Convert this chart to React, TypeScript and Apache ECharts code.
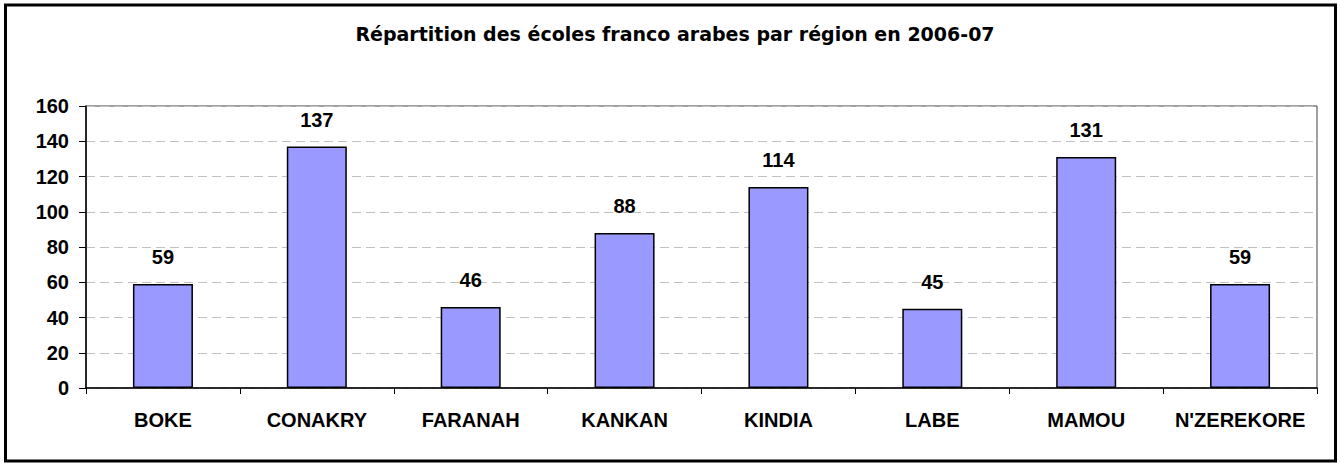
import React, { useEffect, useRef } from "react";
import * as echarts from "echarts";

const categories = ["BOKE", "CONAKRY", "FARANAH", "KANKAN", "KINDIA", "LABE", "MAMOU", "N'ZEREKORE"];
const values = [59, 137, 46, 88, 114, 45, 131, 59];
const titleText = "Répartition des écoles franco arabes par région en 2006-07";

export default function App() {
  const ref = useRef<HTMLDivElement>(null);
  useEffect(() => {
    const chart = echarts.init(ref.current!, null, { renderer: "svg" });
    const font = "'Liberation Sans', Arial, sans-serif";
    chart.setOption({
      animation: false,
      backgroundColor: "#ffffff",
      title: {
        text: titleText,
        left: 670,
        textAlign: "center",
        top: 19,
        textStyle: { fontFamily: "'DejaVu Sans', sans-serif", fontWeight: "bold", fontSize: 19, color: "#000" },
      },
      grid: {
        left: 86, right: 24, top: 106, bottom: 75,
        show: true, borderColor: "#404040", borderWidth: 1, backgroundColor: "transparent",
      },
      xAxis: {
        type: "category",
        data: categories,
        axisLine: { lineStyle: { color: "#000", width: 1.5 } },
        axisTick: { show: true, length: 6, lineStyle: { color: "#000" } },
        axisLabel: { margin: 22, fontFamily: font, fontWeight: "bold", fontSize: 20, color: "#000", interval: 0 },
      },
      yAxis: {
        type: "value",
        min: 0, max: 160, interval: 20,
        axisLine: { show: true, lineStyle: { color: "#000", width: 1.5 } },
        axisTick: { show: true, length: 7, lineStyle: { color: "#000" } },
        axisLabel: { margin: 17, fontFamily: font, fontWeight: "bold", fontSize: 20, color: "#000" },
        splitLine: { show: true, lineStyle: { color: "#c0c0c0", type: [9, 5], width: 1 } },
      },
      series: [
        {
          type: "bar",
          data: values,
          barWidth: 60,
          itemStyle: { color: "#9999ff", borderColor: "#000", borderWidth: 1.5 },
          label: {
            show: true, position: "top", distance: 17,
            fontFamily: font, fontWeight: "bold", fontSize: 20, color: "#000",
          },
        },
      ],
      graphic: [
        {
          type: "rect",
          shape: { x: 5.5, y: 5, width: 1330, height: 456 },
          style: { fill: "none", stroke: "#000", lineWidth: 3 },
          silent: true,
        },
      ],
    });
    return () => chart.dispose();
  }, []);
  return <div ref={ref} style={{ position: "fixed", left: 0, top: 0, width: 1341, height: 463 }} />;
}
